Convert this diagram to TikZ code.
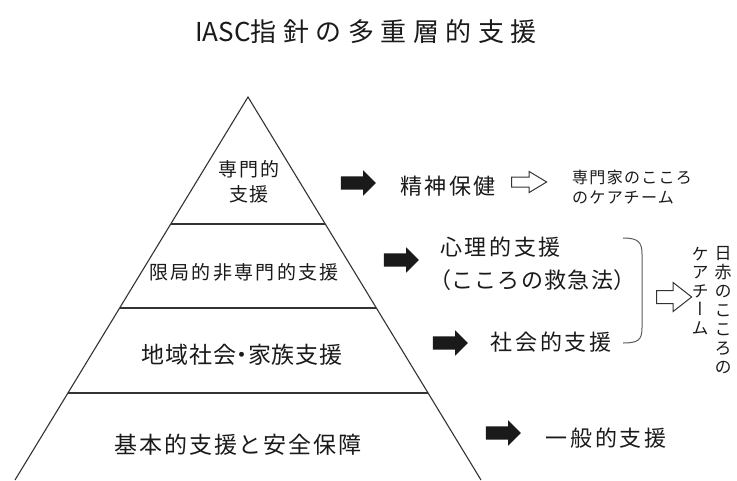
\documentclass[tikz,border=0pt]{standalone}
\usepackage{fontspec}
\setmainfont{Noto Sans CJK JP}
\newfontfamily\jpv[RawFeature=+vert]{Noto Sans CJK JP}
\usetikzlibrary{shapes.arrows,calc}
\newcommand\fsz[2]{\fontsize{#1}{#2}\selectfont}
\newcommand\lsp[1]{\addfontfeature{LetterSpace=#1}}
\definecolor{ink}{HTML}{1A1A1A}
\definecolor{linec}{HTML}{333333}
\tikzset{
  pyr/.style={draw=linec, line width=1.1pt},
  lbl/.style={inner sep=0pt, text=ink},
  blackarrow/.style={single arrow, fill=ink, draw=none, minimum height=35pt,
     inner xsep=0pt, inner ysep=6.5pt, single arrow head extend=6pt},
  hollowarrow/.style={single arrow, fill=white, draw=linec, line width=1pt,
     minimum height=35pt, inner xsep=0pt},
  brace/.style={draw=linec!80, line width=1pt}
}
\begin{document}
\begin{tikzpicture}[x=1pt,y=-1pt]
\useasboundingbox[fill=white] (0,0) rectangle (737,480);
% pyramid
\coordinate (apex) at (248,97);
\coordinate (bl) at (15,480);
\coordinate (br) at (481,480);
\draw[pyr] (bl) -- (apex) -- (br);
\coordinate (l1) at ($(apex)!0.3316!(bl)$);
\coordinate (r1) at ($(apex)!0.3316!(br)$);
\coordinate (l2) at ($(apex)!0.5509!(bl)$);
\coordinate (r2) at ($(apex)!0.5509!(br)$);
\coordinate (l3) at ($(apex)!0.7728!(bl)$);
\coordinate (r3) at ($(apex)!0.7728!(br)$);
\draw[pyr] (l1) -- (r1);
\draw[pyr] (l2) -- (r2);
\draw[pyr] (l3) -- (r3);
% title
\node[lbl, font=\fsz{26}{30}] (title) at (366,32) {IASC{\lsp{25}指針の多重層的支援}};
% pyramid labels
\node[lbl, align=center, font=\fsz{19}{25}\lsp{10}] (t1) at (249,182) {専門的\\支援};
\node[lbl, font=\fsz{19}{22}\lsp{12}] (t2) at (244,272) {限局的非専門的支援};
\node[lbl, font=\fsz{23}{26}\lsp{4}] (t3) at (242,355) {地域社会\makebox[12pt]{・}家族支援};
\node[lbl, font=\fsz{23}{26}\lsp{8}] (t4) at (238,445) {基本的支援と安全保障};
% black arrows
\node[blackarrow] (a1) at (355,183) {};
\node[blackarrow] (a2) at (398,260) {};
\node[blackarrow] (a3) at (447,343) {};
\node[blackarrow] (a4) at (500,433) {};
% right texts
\node[lbl, font=\fsz{22}{26}\lsp{12}] (s1) at (448,186) {精神保健};
\node[hollowarrow, inner ysep=4.5pt, single arrow head extend=5.5pt,
      single arrow tip angle=62] (h1) at (525,182) {};
\node[lbl, anchor=west, align=left, font=\fsz{16}{20}\lsp{8}] (s1b) at (572,187) {専門家のこころ\\のケアチーム};
\node[lbl, anchor=west, font=\fsz{22}{26}\lsp{12}] (s2) at (440,247) {心理的支援};
\node[lbl, anchor=west, font=\fsz{22}{26}\lsp{6}] (s2b) at (440,280) {\makebox[11pt][r]{（}こころの救急法\makebox[11pt][l]{）}};
\node[lbl, font=\fsz{22}{26}\lsp{12}] (s3) at (551,342) {社会的支援};
\node[lbl, font=\fsz{22}{26}\lsp{12}] (s4) at (606,438) {一般的支援};
% bracket
\coordinate (bt) at (623,238);
\coordinate (bb) at (623,343);
\draw[brace] (bt) .. controls (638,238) and (642,242) .. (642,254)
   -- (642,328) .. controls (642,340) and (638,343) .. (bb);
\node[hollowarrow, inner ysep=6pt, single arrow head extend=8pt,
      single arrow tip angle=76] (h2) at (670,297) {};
% vertical texts
\node[lbl, align=center, font=\jpv\fsz{17}{18.5}] (v1) at (700,291) {ケ\\ア\\チ\\ー\\ム};
\node[lbl, align=center, font=\jpv\fsz{17}{19}] (v2) at (723,310) {日\\赤\\の\\こ\\こ\\ろ\\の};
\end{tikzpicture}
\end{document}
